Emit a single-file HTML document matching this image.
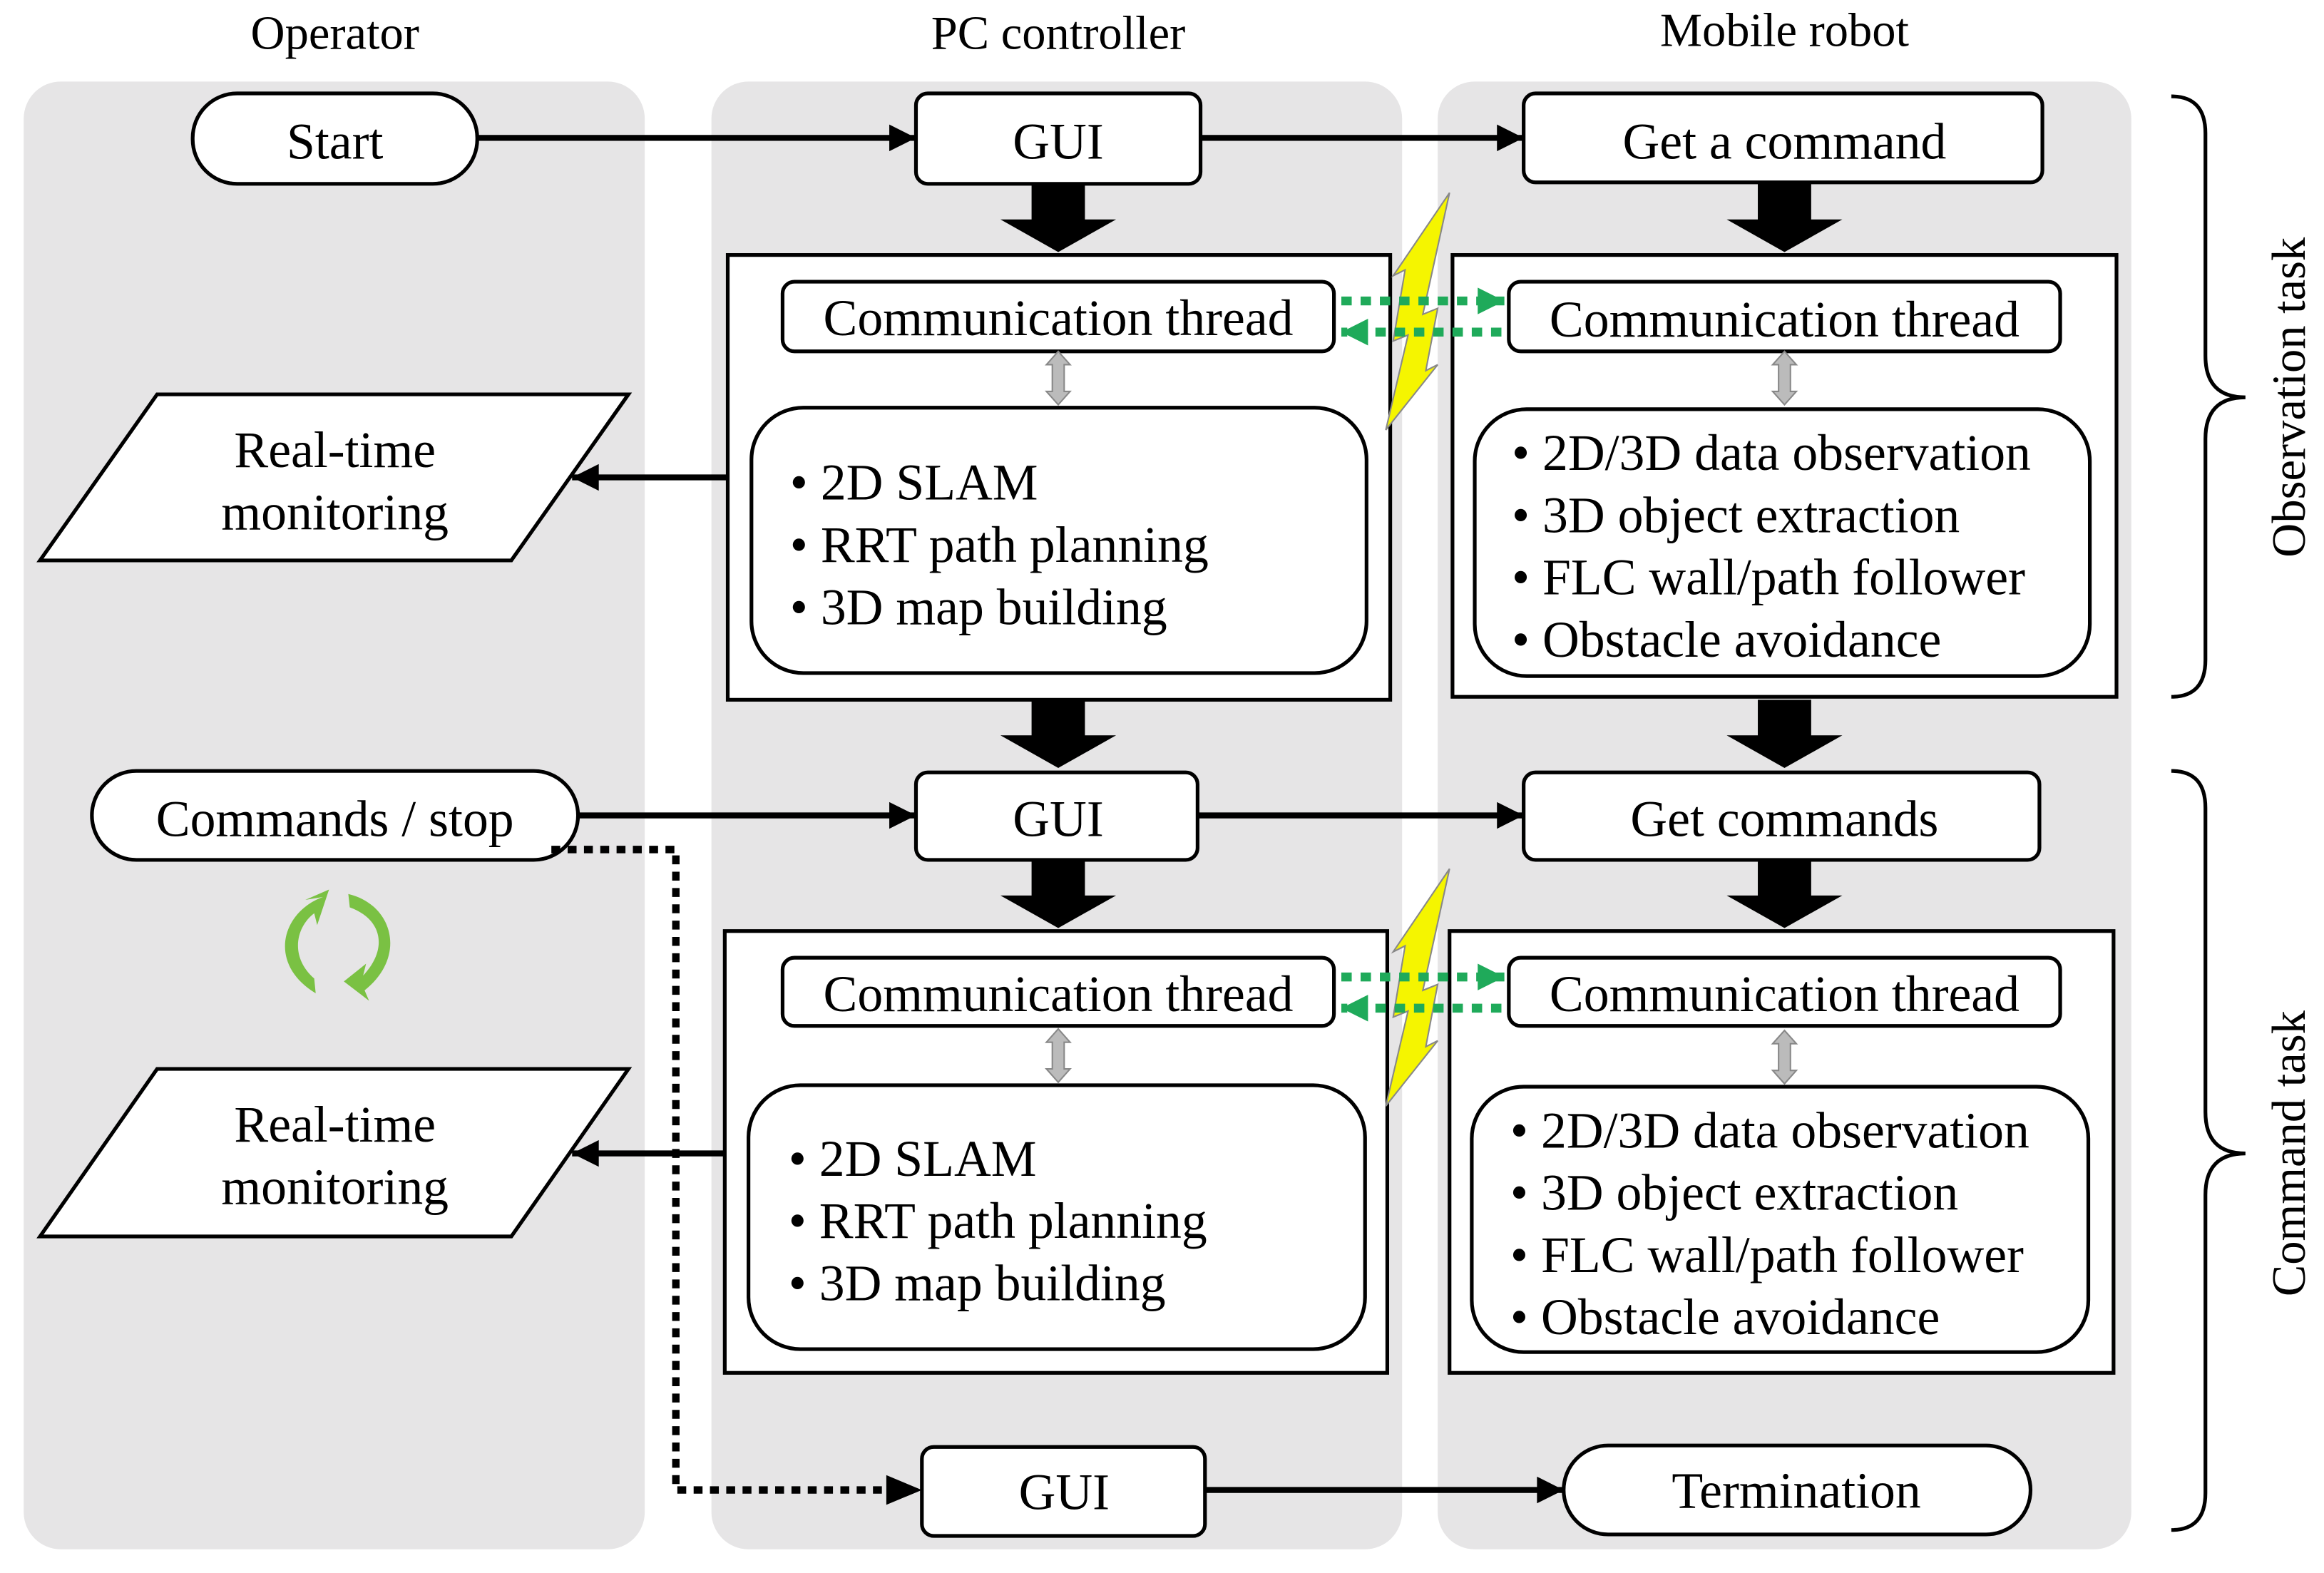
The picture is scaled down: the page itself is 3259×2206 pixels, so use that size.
<!DOCTYPE html>
<html><head><meta charset="utf-8"><style>html,body{margin:0;padding:0;background:#fff}svg{display:block}</style></head>
<body>
<svg width="3259" height="2206" viewBox="0 0 1568 1061" preserveAspectRatio="none" xmlns="http://www.w3.org/2000/svg" font-family="Liberation Serif, serif" font-size="34.5">
<defs>
<marker id="a2" viewBox="0 0 10 10" refX="10" refY="5" markerWidth="24" markerHeight="18" orient="auto" markerUnits="userSpaceOnUse"><path d="M0,0 L10,5 L0,10z" fill="#000"/></marker>
<marker id="ag" viewBox="0 0 10 10" refX="10" refY="5" markerWidth="20" markerHeight="18" orient="auto" markerUnits="userSpaceOnUse"><path d="M0,0 L10,5 L0,10z" fill="#1faa5a"/></marker>
<g id="bigdown"><path d="M-18,0 H18 V24 H39 L0,46 L-39,24 H-18z" fill="#000"/></g>
<g id="gdbl"><path d="M0,0 L8,9 H4 V27 H8 L0,36 L-8,27 H-4 V9 H-8z" fill="#bbb" stroke="#888" stroke-width="1"/></g>
</defs>
<rect x="16" y="55" width="419" height="990" rx="25" fill="#e6e5e6"/>
<rect x="480" y="55" width="466" height="990" rx="25" fill="#e6e5e6"/>
<rect x="970" y="55" width="468" height="990" rx="25" fill="#e6e5e6"/>
<g text-anchor="middle" font-size="32">
<text x="226" y="33">Operator</text>
<text x="714" y="33">PC controller</text>
<text x="1204" y="31">Mobile robot</text>
</g>
<g stroke="#000" stroke-width="2.5" fill="#fff">
<rect x="130" y="63" width="192" height="61" rx="30"/>
<rect x="618" y="63" width="192" height="61" rx="8"/>
<rect x="1028" y="63" width="350" height="60" rx="8"/>
<rect x="491" y="172" width="447" height="300"/>
<rect x="980" y="172" width="448" height="298"/>
<rect x="528" y="190" width="372" height="47" rx="8"/>
<rect x="1018" y="190" width="372" height="47" rx="8"/>
<rect x="507" y="275" width="415" height="179" rx="35"/>
<rect x="995" y="276" width="415" height="180" rx="35"/>
<polygon points="106,266 424,266 345,378 27,378"/>
<rect x="62" y="520" width="328" height="60" rx="30"/>
<rect x="618" y="521" width="190" height="59" rx="8"/>
<rect x="1028" y="521" width="348" height="59" rx="8"/>
<rect x="489" y="628" width="447" height="298"/>
<rect x="978" y="628" width="448" height="298"/>
<rect x="528" y="646" width="372" height="46" rx="8"/>
<rect x="1018" y="646" width="372" height="46" rx="8"/>
<rect x="505" y="732" width="416" height="178" rx="35"/>
<rect x="993" y="733" width="416" height="179" rx="35"/>
<polygon points="106,721 424,721 345,834 27,834"/>
<rect x="622" y="976" width="191" height="60" rx="8"/>
<rect x="1055" y="975" width="315" height="60" rx="30"/>
</g>
<g stroke="#000" stroke-width="4" fill="none" marker-end="url(#a2)">
<line x1="322" y1="93" x2="618" y2="93"/>
<line x1="810" y1="93" x2="1028" y2="93"/>
<line x1="491" y1="322" x2="386" y2="322"/>
<line x1="390" y1="550" x2="618" y2="550"/>
<line x1="808" y1="550" x2="1028" y2="550"/>
<line x1="489" y1="778" x2="386" y2="778"/>
<line x1="813" y1="1005" x2="1055" y2="1005"/>
</g>
<path d="M372,573 H456 V1005 H600" stroke="#000" stroke-width="5" stroke-dasharray="6,5" fill="none"/>
<path d="M598,995 L622,1005 L598,1015z"/>
<use href="#bigdown" x="714" y="124"/><use href="#bigdown" x="1204" y="124"/>
<use href="#bigdown" x="714" y="472"/><use href="#bigdown" x="1204" y="472"/>
<use href="#bigdown" x="714" y="580"/><use href="#bigdown" x="1204" y="580"/>
<use href="#gdbl" x="714" y="237"/><use href="#gdbl" x="1204" y="237"/>
<use href="#gdbl" x="714" y="694"/><use href="#gdbl" x="1204" y="695"/>
<polygon points="978,130 960,212 970,208 962,250 970,246 935,290 950,226 940,230 948,182 940,186" fill="#f5f500" stroke="#888" stroke-width="1"/>
<polygon points="978,586 960,668 970,664 962,706 970,702 935,746 950,682 940,686 948,638 940,642" fill="#f5f500" stroke="#888" stroke-width="1"/>
<g stroke="#1faa5a" stroke-width="6" stroke-dasharray="7,6" fill="none" marker-end="url(#ag)">
<line x1="905" y1="203" x2="1015" y2="203"/>
<line x1="1013" y1="224" x2="905" y2="224"/>
<line x1="905" y1="659" x2="1015" y2="659"/>
<line x1="1013" y1="680" x2="905" y2="680"/>
</g>
<g fill="#7ac143">
<path d="M218,605 C190,615 180,650 213,670 L212,660 C195,645 200,625 212,616 L214,624 L222,600 L206,607z"/>
<path d="M235,603 C265,610 275,645 246,668 L249,675 L232,662 L247,650 L245,658 C262,640 258,620 236,612z"/>
</g>
<g text-anchor="middle">
<text x="226" y="107">Start</text>
<text x="714" y="107">GUI</text>
<text x="1204" y="107">Get a command</text>
<text x="714" y="226">Communication thread</text>
<text x="1204" y="227">Communication thread</text>
<text x="226" y="315">Real-time</text>
<text x="226" y="357">monitoring</text>
<text x="226" y="564">Commands / stop</text>
<text x="714" y="564">GUI</text>
<text x="1204" y="564">Get commands</text>
<text x="714" y="682">Communication thread</text>
<text x="1204" y="682">Communication thread</text>
<text x="226" y="770">Real-time</text>
<text x="226" y="812">monitoring</text>
<text x="718" y="1018">GUI</text>
<text x="1212" y="1017">Termination</text>
</g>
<g>
<text x="533" y="337">• 2D SLAM</text>
<text x="533" y="379">• RRT path planning</text>
<text x="533" y="421">• 3D map building</text>
<text x="1020" y="317">• 2D/3D data observation</text>
<text x="1020" y="359">• 3D object extraction</text>
<text x="1020" y="401">• FLC wall/path follower</text>
<text x="1020" y="443">• Obstacle avoidance</text>
<text x="532" y="793">• 2D SLAM</text>
<text x="532" y="835">• RRT path planning</text>
<text x="532" y="877">• 3D map building</text>
<text x="1019" y="774">• 2D/3D data observation</text>
<text x="1019" y="816">• 3D object extraction</text>
<text x="1019" y="858">• FLC wall/path follower</text>
<text x="1019" y="900">• Obstacle avoidance</text>
</g>
<g stroke="#000" stroke-width="2.5" fill="none">
<path d="M1465,65 Q1488,65 1488,90 V240 Q1488,268 1515,268 Q1488,268 1488,296 V445 Q1488,470 1465,470"/>
<path d="M1465,520 Q1488,520 1488,545 V750 Q1488,778 1515,778 Q1488,778 1488,806 V1007 Q1488,1032 1465,1032"/>
</g>
<text transform="translate(1555,268) rotate(-90)" text-anchor="middle" font-size="32">Observation task</text>
<text transform="translate(1555,778) rotate(-90)" text-anchor="middle" font-size="32">Command task</text>
</svg>
</body></html>
